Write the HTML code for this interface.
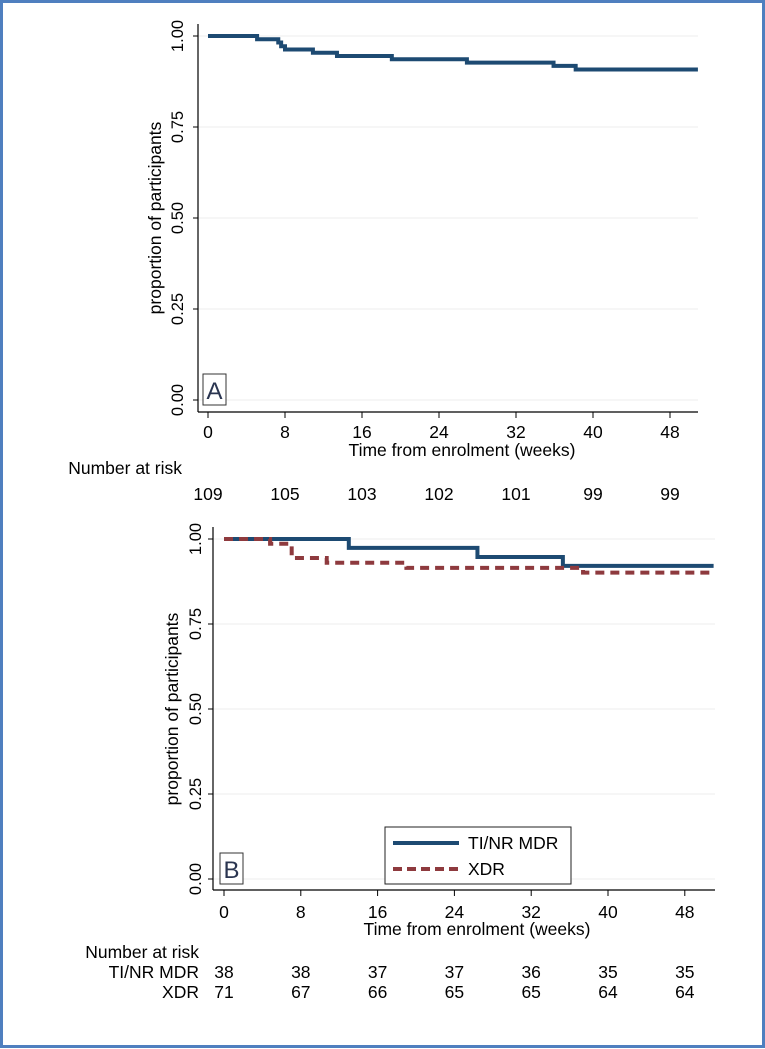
<!DOCTYPE html>
<html><head><meta charset="utf-8"><style>
html,body{margin:0;padding:0;background:#fff}
svg{display:block;font-family:"Liberation Sans",Arial,sans-serif}
</style></head><body>
<svg id="fig" width="765" height="1049" viewBox="0 0 765 1049" xmlns="http://www.w3.org/2000/svg">
<rect x="1.5" y="1.5" width="762" height="1045" fill="#fff" stroke="#4f7fbf" stroke-width="3"/>
<g id="gA"></g>
<g id="gB"></g>
</svg>
<script>
// Panel A data
const aTimes = [0, 5.1, 7.3, 7.6, 8.0, 10.9, 13.4, 19.1, 26.9, 35.9, 38.2];
const aSurv = [1, 0.991, 0.982, 0.972, 0.963, 0.954, 0.945, 0.936, 0.927, 0.918, 0.908];
const aEnd = 50.9;
const aRisk = [109, 105, 103, 102, 101, 99, 99];
// Panel B data
const bMdrTimes = [0, 13.0, 26.4, 35.3];
const bMdrSurv = [1, 0.974, 0.947, 0.921];
const bXdrTimes = [0, 4.8, 7.05, 7.6, 10.7, 19.0, 37.4];
const bXdrSurv = [1, 0.986, 0.958, 0.944, 0.930, 0.915, 0.901];
const bEnd = 51;
const bRiskMdr = [38, 38, 37, 37, 36, 35, 35];
const bRiskXdr = [71, 67, 66, 65, 65, 64, 64];
const xTicks = [0, 8, 16, 24, 32, 40, 48];
const yTicks = [0, 0.25, 0.5, 0.75, 1];
const yTickLabels = ["0.00", "0.25", "0.50", "0.75", "1.00"];

const NS = "http://www.w3.org/2000/svg";
const FS = 17.5;
function mk(parent, tag, attrs, text) {
  const e = document.createElementNS(NS, tag);
  for (const k in attrs) e.setAttribute(k, attrs[k]);
  if (text !== undefined) e.textContent = text;
  parent.appendChild(e);
  return e;
}
function stepPath(times, surv, end, sx, sy) {
  let d = "M" + sx(times[0]) + "," + sy(surv[0]);
  for (let i = 1; i < times.length; i++) {
    d += " L" + sx(times[i]) + "," + sy(surv[i - 1]) + " L" + sx(times[i]) + "," + sy(surv[i]);
  }
  d += " L" + sx(end) + "," + sy(surv[surv.length - 1]);
  return d;
}
function panel(g, cfg) {
  const sx = t => cfg.x0 + t * cfg.xs;
  const sy = v => cfg.y0 - v * cfg.ys;
  yTicks.forEach((v, i) => {
    const gl = mk(g, "line", {x1: cfg.axX, x2: cfg.right, y1: sy(v), y2: sy(v), stroke: "#ececec", "stroke-width": 1});
    
    
    const tk = mk(g, "line", {x1: cfg.axX - 5, x2: cfg.axX, y1: sy(v), y2: sy(v), stroke: "#000", "stroke-width": 1});
    
    
    const tl = mk(g, "text", {x: 0, y: 0, transform: "translate(" + (cfg.ylabX + 6) + "," + sy(v) + ") rotate(-90)", "text-anchor": "middle", "font-size": 16.5, fill: "#000"}, yTickLabels[i]);
    
    
  });
  const ya = mk(g, "line", {x1: cfg.axX, x2: cfg.axX, y1: cfg.top, y2: cfg.axY, stroke: "#000", "stroke-width": 1.2});
  
  
  const xa = mk(g, "line", {x1: cfg.axX, x2: cfg.right, y1: cfg.axY, y2: cfg.axY, stroke: "#000", "stroke-width": 1.2});
  
  
  xTicks.forEach(t => {
    const tk = mk(g, "line", {x1: sx(t), x2: sx(t), y1: cfg.axY, y2: cfg.axY + 6, stroke: "#000", "stroke-width": 1});
    
    
    const tl = mk(g, "text", {x: sx(t), y: cfg.tickBase, "text-anchor": "middle", "font-size": FS, fill: "#000"}, String(t));
    
    
  });
  const xt = mk(g, "text", {x: cfg.titleX, y: cfg.titleBase, "text-anchor": "middle", "font-size": FS, fill: "#000"}, "Time from enrolment (weeks)");
  
  
  const yt = mk(g, "text", {x: 0, y: 0, transform: "translate(" + (cfg.ytitleX + 6) + "," + ((sy(0) + sy(1)) / 2) + ") rotate(-90)", "text-anchor": "middle", "font-size": FS, fill: "#000"}, "proportion of participants");
  
  
  const lb = mk(g, "rect", {x: cfg.boxX, y: cfg.boxY, width: 23, height: 31, fill: "#fff", stroke: "#333", "stroke-width": 1});
  
  
  const lt = mk(g, "text", {x: cfg.boxX + 11.5, y: cfg.boxY + 25, "text-anchor": "middle", "font-size": 24, fill: "#2a3550"}, cfg.letter);
  
  
  return {sx, sy};
}

// Panel A
const gA = document.getElementById("gA");
const A = panel(gA, {x0: 208, xs: 9.625, y0: 400, ys: 364, axX: 198, axY: 412, top: 24, right: 698,
  tickBase: 438, titleBase: 456, titleX: 462, ylabX: 177, ytitleX: 155, boxX: 203, boxY: 374, letter: "A"});
const la = mk(gA, "path", {d: stepPath(aTimes, aSurv, aEnd, A.sx, A.sy), fill: "none", stroke: "#1d4a72", "stroke-width": 4});


const ra = mk(gA, "text", {x: 182, y: 474, "text-anchor": "end", "font-size": FS, fill: "#000"}, "Number at risk");


aRisk.forEach((n, i) => {
  const t = mk(gA, "text", {x: A.sx(xTicks[i]), y: 500, "text-anchor": "middle", "font-size": FS, fill: "#000"}, String(n));
  
  
});

// Panel B
const gB = document.getElementById("gB");
const B = panel(gB, {x0: 224, xs: 9.6, y0: 879, ys: 340, axX: 213, axY: 890, top: 527, right: 715,
  tickBase: 918, titleBase: 935, titleX: 477, ylabX: 195, ytitleX: 172, boxX: 220, boxY: 853, letter: "B"});
const lbm = mk(gB, "path", {d: stepPath(bMdrTimes, bMdrSurv, bEnd, B.sx, B.sy), fill: "none", stroke: "#1d4a72", "stroke-width": 4});


const lbx = mk(gB, "path", {d: stepPath(bXdrTimes, bXdrSurv, bEnd, B.sx, B.sy), fill: "none", stroke: "#8e3a3e", "stroke-width": 4, "stroke-dasharray": "9,6"});


const leg = mk(gB, "g", {});


mk(leg, "rect", {x: 385, y: 827, width: 186, height: 57, fill: "#fff", stroke: "#222", "stroke-width": 1});
const le1 = mk(leg, "line", {x1: 393, x2: 459, y1: 843, y2: 843, stroke: "#1d4a72", "stroke-width": 4});


const lt1 = mk(leg, "text", {x: 468, y: 849, "font-size": FS, fill: "#000"}, "TI/NR MDR");


const le2 = mk(leg, "line", {x1: 393, x2: 459, y1: 869, y2: 869, stroke: "#8e3a3e", "stroke-width": 4, "stroke-dasharray": "9,5"});


const lt2 = mk(leg, "text", {x: 468, y: 875, "font-size": FS, fill: "#000"}, "XDR");


const rb = mk(gB, "text", {x: 199, y: 958, "text-anchor": "end", "font-size": FS, fill: "#000"}, "Number at risk");


const rb1 = mk(gB, "text", {x: 199, y: 978, "text-anchor": "end", "font-size": FS, fill: "#000"}, "TI/NR MDR");


const rb2 = mk(gB, "text", {x: 199, y: 998, "text-anchor": "end", "font-size": FS, fill: "#000"}, "XDR");


bRiskMdr.forEach((n, i) => {
  const t = mk(gB, "text", {x: B.sx(xTicks[i]), y: 978, "text-anchor": "middle", "font-size": FS, fill: "#000"}, String(n));
  
  
});
bRiskXdr.forEach((n, i) => {
  const t = mk(gB, "text", {x: B.sx(xTicks[i]), y: 998, "text-anchor": "middle", "font-size": FS, fill: "#000"}, String(n));
  
  
});
</script>
</body></html>
